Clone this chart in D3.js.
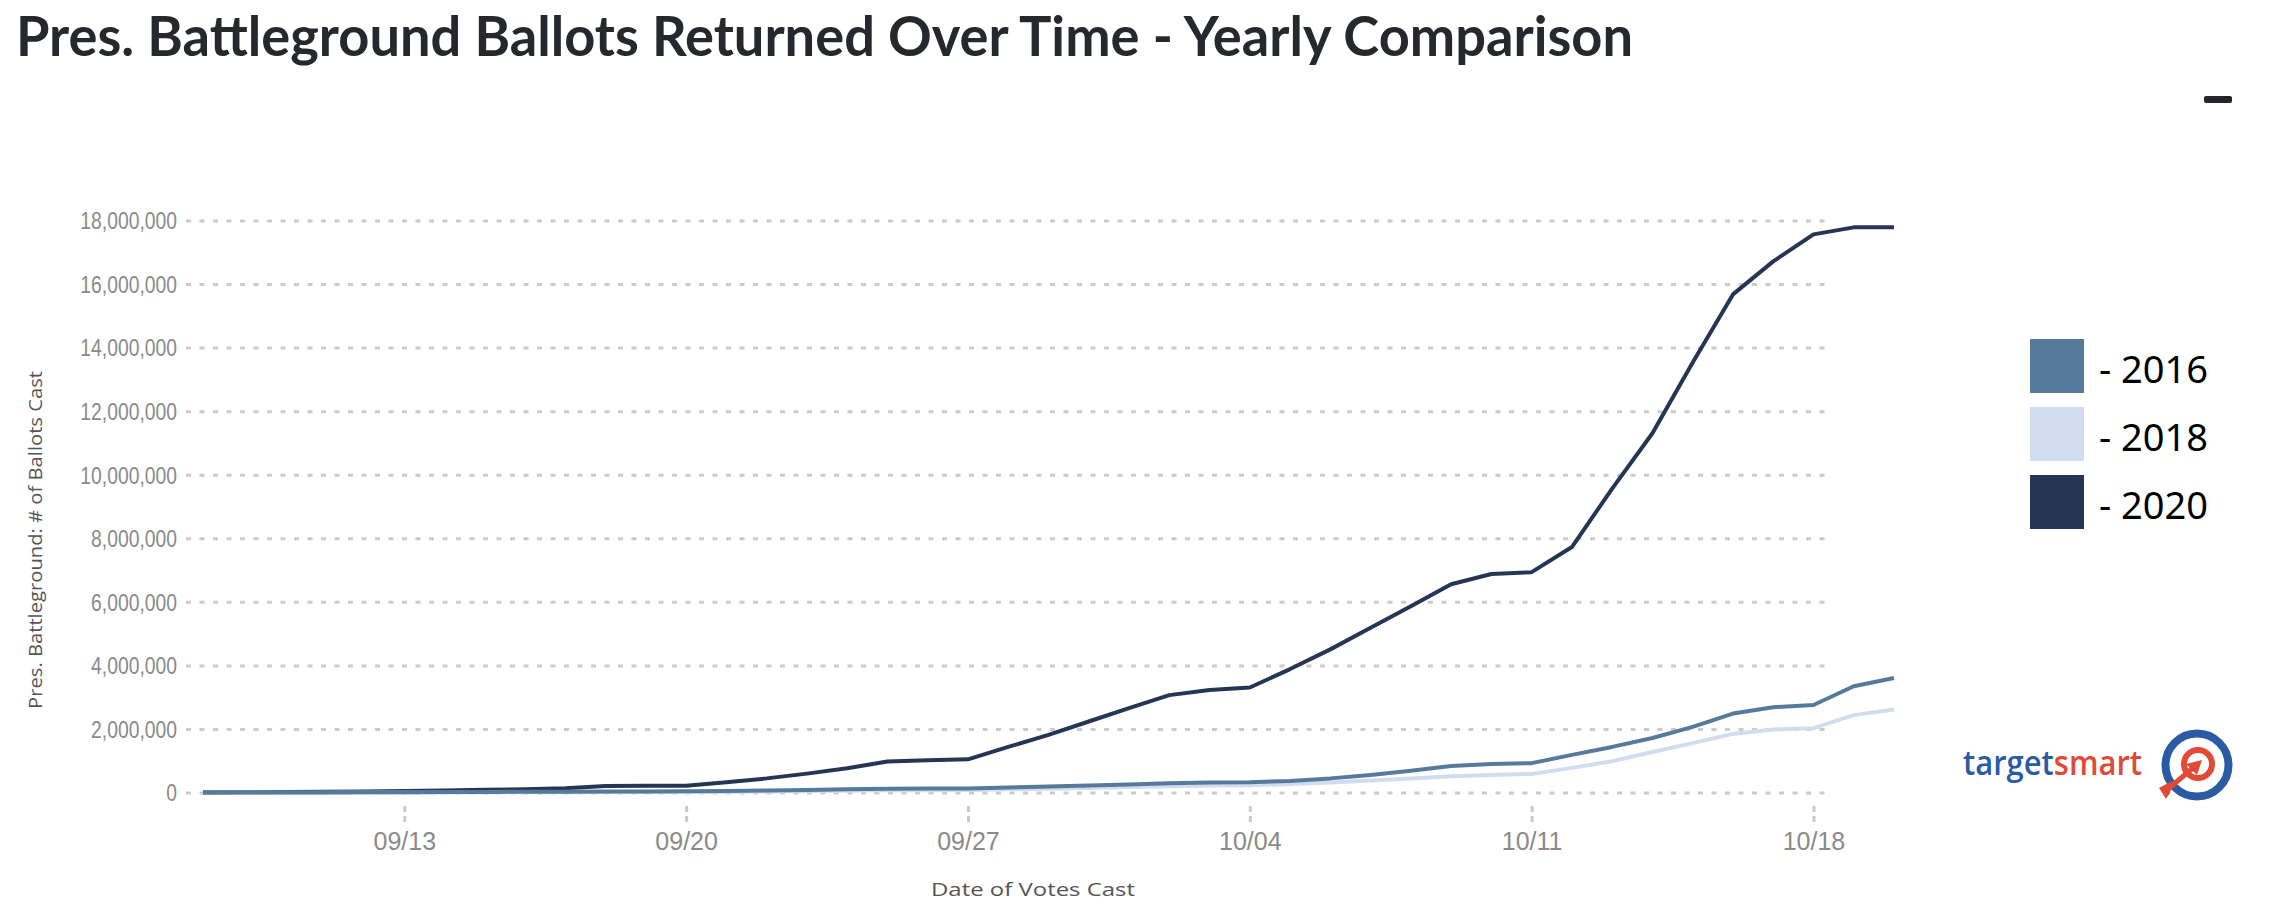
<!DOCTYPE html>
<html lang="en">
<head>
  <meta charset="UTF-8">
  <title>Pres. Battleground Ballots Returned Over Time - Yearly Comparison</title>
  <script src="https://d3js.org/d3.v7.min.js"></script>
  <style>
    body { margin: 0; background: #fff; }
    .grid line { stroke: #cbcbcb; stroke-width: 3px; stroke-dasharray: 5 8.5; }
    .tick-label { font-family: "Liberation Sans", Arial, sans-serif; font-size: 25px; fill: #8a8a8a; }
    .y-label { font-family: "Liberation Sans", Arial, sans-serif; font-size: 23px; fill: #8a8a8a; }
    .axis-title { font-family: "Open Sans", sans-serif; font-size: 19px; fill: #555; }
    .series { fill: none; stroke-width: 4px; stroke-linejoin: round; }
    .legend-label { font-family: "Noto Sans", sans-serif; font-size: 38px; fill: #000; }
  </style>
</head>
<body>

<svg width="2282" height="918"></svg>

<script>
  // Dates of votes cast (2020 calendar, MM/DD)
  const days = [
    "09/08","09/09","09/10","09/11","09/12","09/13","09/14","09/15","09/16","09/17",
    "09/18","09/19","09/20","09/21","09/22","09/23","09/24","09/25","09/26","09/27",
    "09/28","09/29","09/30","10/01","10/02","10/03","10/04","10/05","10/06","10/07",
    "10/08","10/09","10/10","10/11","10/12","10/13","10/14","10/15","10/16","10/17",
    "10/18","10/19","10/20"
  ];

  const ballots2016 = [
    10000, 12000, 15000, 18000, 22000, 26000, 30000, 34000, 38000, 42000,
    46000, 50000, 55000, 65000, 80000, 95000, 115000, 135000, 140000, 145000,
    175000, 205000, 235000, 270000, 310000, 330000, 340000, 380000, 460000, 570000,
    700000, 850000, 910000, 940000, 1200000, 1450000, 1730000, 2080000, 2500000, 2700000,
    2770000, 3360000, 3620000
  ];

  const ballots2018 = [
    5000, 6000, 8000, 10000, 12000, 14000, 16000, 19000, 22000, 25000,
    28000, 31000, 35000, 42000, 50000, 60000, 72000, 85000, 90000, 95000,
    115000, 135000, 160000, 185000, 215000, 235000, 245000, 280000, 330000, 390000,
    460000, 530000, 570000, 600000, 790000, 1000000, 1290000, 1570000, 1860000, 2000000,
    2040000, 2450000, 2630000
  ];

  const ballots2020 = [
    20000, 25000, 30000, 40000, 50000, 60000, 80000, 100000, 120000, 150000,
    220000, 225000, 230000, 340000, 460000, 610000, 780000, 990000, 1030000, 1060000,
    1450000, 1830000, 2250000, 2670000, 3080000, 3240000, 3320000, 3900000, 4520000, 5200000,
    5880000, 6570000, 6890000, 6950000, 7740000, 9580000, 11320000, 13550000, 15690000, 16730000,
    17580000, 17800000, 17800000
  ];

  const years = ["2016", "2018", "2020"];
  const colors = ["#557a9b", "#d1ddee", "#253654"];
  const xTickLabels = ["09/13", "09/20", "09/27", "10/04", "10/11", "10/18"];
  const yTicks = [0, 2000000, 4000000, 6000000, 8000000, 10000000, 12000000, 14000000, 16000000, 18000000];

  const parse = d3.timeParse("%Y/%m/%d");
  const toDate = s => parse("2020/" + s);

  const svg = d3.select("svg");

  // Scales
  const x = d3.scaleTime()
    .domain([toDate(days[0]), toDate(days[days.length - 1])])
    .range([203, 1894]);

  const y = d3.scaleLinear()
    .domain([0, 18000000])
    .range([793, 221]);

  // Title
  svg.append("text")
    .attr("x", 16)
    .attr("y", 56)
    .attr("textLength", 1617)
    .attr("lengthAdjust", "spacingAndGlyphs")
    .style("font-family", "Lato, sans-serif")
    .style("font-weight", 700)
    .style("font-size", "56px")
    .style("fill", "#25282c")
    .text("Pres. Battleground Ballots Returned Over Time - Yearly Comparison");

  // small dash top right
  svg.append("rect")
    .attr("x", 2204).attr("y", 96)
    .attr("width", 28).attr("height", 7)
    .attr("rx", 2)
    .style("fill", "#23262a");

  // Horizontal grid lines
  const grid = svg.append("g").attr("class", "grid");
  grid.selectAll("line")
    .data(yTicks)
    .enter().append("line")
    .attr("x1", 186)
    .attr("x2", 1832)
    .attr("y1", d => y(d))
    .attr("y2", d => y(d));

  // Y tick labels (a little narrower than the x labels in the original)
  svg.selectAll(".y-label")
    .data(yTicks)
    .enter().append("text")
    .attr("class", "y-label")
    .attr("x", 177)
    .attr("y", d => y(d))
    .attr("dy", "0.36em")
    .attr("text-anchor", "end")
    .text(d => d3.format(",")(d))
    .each(function() {
      const w = this.getComputedTextLength();
      d3.select(this)
        .attr("textLength", w * 0.84)
        .attr("lengthAdjust", "spacingAndGlyphs");
    });

  // X axis ticks and labels
  const xAxis = d3.axisBottom(x)
    .tickValues(xTickLabels.map(toDate))
    .tickFormat(d3.timeFormat("%m/%d"))
    .tickSize(16)
    .tickPadding(10);

  const gx = svg.append("g")
    .attr("transform", "translate(0,806)")
    .call(xAxis);

  gx.select(".domain").remove();
  gx.selectAll(".tick line")
    .style("stroke", "#c8c8c8")
    .style("stroke-width", 3)
    .style("stroke-dasharray", "6 4");
  gx.selectAll(".tick text")
    .attr("class", "tick-label")
    .attr("fill", null);

  // Axis titles
  svg.append("text")
    .attr("class", "axis-title")
    .attr("transform", "translate(42,540) rotate(-90)")
    .attr("text-anchor", "middle")
    .attr("textLength", 338)
    .attr("lengthAdjust", "spacingAndGlyphs")
    .text("Pres. Battleground: # of Ballots Cast");

  svg.append("text")
    .attr("class", "axis-title")
    .attr("x", 1033)
    .attr("y", 896)
    .attr("text-anchor", "middle")
    .attr("textLength", 204)
    .attr("lengthAdjust", "spacingAndGlyphs")
    .text("Date of Votes Cast");

  // Lines (2020 drawn first, 2016 on top)
  const seriesValues = [ballots2016, ballots2018, ballots2020];
  const line = d3.line()
    .x((d, i) => x(toDate(days[i])))
    .y(d => y(d));

  svg.selectAll(".series")
    .data([2, 1, 0])
    .enter().append("path")
    .attr("class", "series")
    .attr("d", k => line(seriesValues[k]))
    .style("stroke", k => colors[k]);

  // Legend
  const legend = svg.selectAll(".legend")
    .data(years)
    .enter().append("g")
    .attr("class", "legend")
    .attr("transform", (d, i) => `translate(2030,${339 + i * 68})`);

  legend.append("rect")
    .attr("width", 54)
    .attr("height", 54)
    .style("fill", (d, i) => colors[i]);

  legend.append("text")
    .attr("class", "legend-label")
    .attr("x", 69)
    .attr("y", 44)
    .text(d => "- " + d);

  // targetsmart logo
  const logo = svg.append("g");
  const logoText = logo.append("text")
    .attr("x", 1963)
    .attr("y", 775)
    .attr("textLength", 179)
    .attr("lengthAdjust", "spacingAndGlyphs")
    .style("font-family", "'Open Sans', sans-serif")
    .style("font-weight", 600)
    .style("font-size", "34px");
  logoText.append("tspan").style("fill", "#2a5ba3").text("target");
  logoText.append("tspan").style("fill", "#e04a36").text("smart");

  logo.append("circle")
    .attr("cx", 2197).attr("cy", 765).attr("r", 31.5)
    .style("fill", "#fff")
    .style("stroke", "#2a5ba3")
    .style("stroke-width", 8);
  logo.append("circle")
    .attr("cx", 2198).attr("cy", 764).attr("r", 14)
    .style("fill", "none")
    .style("stroke", "#e04a36")
    .style("stroke-width", 6);
  logo.append("line")
    .attr("x1", 2167).attr("y1", 790)
    .attr("x2", 2194).attr("y2", 767)
    .style("stroke", "#e04a36")
    .style("stroke-width", 5);
  logo.append("path")
    .attr("d", "M2202,760 L2186,764 L2197,775 Z")
    .style("fill", "#e04a36");
  logo.append("path")
    .attr("d", "M2159,788 L2172,781 L2170,793 L2166,799 Z")
    .style("fill", "#e04a36");
</script>

</body>
</html>
